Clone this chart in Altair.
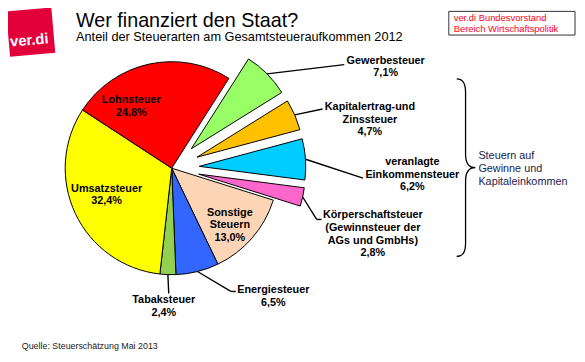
import math
import altair as alt
import pandas as pd

# ---------------- data ----------------
categories = [
    "Gewerbesteuer",
    "Kapitalertrag-und\nZinssteuer",
    "veranlagte\nEinkommensteuer",
    "Körperschaftsteuer\n(Gewinnsteuer der\nAGs und GmbHs)",
    "Sonstige\nSteuern",
    "Energiesteuer",
    "Tabaksteuer",
    "Umsatzsteuer",
    "Lohnsteuer",
]
shares = [7.1, 4.7, 6.2, 2.8, 13.0, 6.5, 2.4, 32.4, 24.8]
exploded = [1, 1, 1, 1, 0, 0, 0, 0, 0]
colors = ["#99FF66", "#FFC000", "#00CCFF", "#FF66CC", "#FBD5B5",
          "#3366FF", "#92D050", "#FFFF00", "#FF0000"]

# ---------------- layout (page pixel coordinates) ----------------
OFF = 8                      # page margin
W, H = 577, 346
CX, CY = 174 - OFF, 168 - OFF
R = 108
EXP = 28
START = math.radians(32.5)
FONT = "Liberation Sans"

label_x = [391, 375, 418, 378, 233, 277, 166, 108, 133]
label_y = [58, 105, 161, 215, 212, 291, 301, 188, 98]
has_lead = [1, 1, 1, 1, 0, 1, 1, 0, 0]
lead_x = [349, 327, 368, 321, None, 234, 171, None, None]
lead_y = [63, 108, 178, 220, None, 293, 295, None, None]
lead_end_x = [349, 327, 368, 326, None, 239, 171, None, None]

df = pd.DataFrame({
    "name": categories,
    "share": shares,
    "explode": exploded,
    "color": colors,
    "order": list(range(len(categories))),
    "tx": [x - OFF for x in label_x],
    "ty": [y - OFF + 4 for y in label_y],
    "lead": has_lead,
    "lx": [None if v is None else v - OFF for v in lead_x],
    "ly": [None if v is None else v - OFF for v in lead_y],
    "hx": [None if v is None else v - OFF for v in lead_end_x],
})

base = (
    alt.Chart(df)
    .transform_joinaggregate(total="sum(share)")
    .transform_window(cum="sum(share)", sort=[alt.SortField("order")], frame=[None, 0])
    .transform_calculate(t0=f"{START} + 2*PI*(datum.cum - datum.share)/datum.total")
    .transform_calculate(t1=f"{START} + 2*PI*datum.cum/datum.total")
    .transform_calculate(mid="(datum.t0 + datum.t1)/2")
    .transform_calculate(cx=f"{CX} + datum.explode*{EXP}*sin(datum.mid)")
    .transform_calculate(cy=f"{CY} - datum.explode*{EXP}*cos(datum.mid)")
    .transform_calculate(ex=f"datum.cx + {R}*sin(datum.mid)")
    .transform_calculate(ey=f"datum.cy - {R}*cos(datum.mid)")
    .transform_calculate(label="datum.name + '\\n' + replace(format(datum.share, '.1f'), '.', ',') + '%'")
)

pie = base.mark_arc(outerRadius=R, stroke="black", strokeWidth=1).encode(
    theta=alt.Theta("t0:Q", scale=None),
    theta2="t1:Q",
    x=alt.X("cx:Q", scale=None, axis=None),
    y=alt.Y("cy:Q", scale=None, axis=None),
    color=alt.Color("color:N", scale=None),
)

lead1 = base.transform_filter("datum.lead == 1").mark_rule(color="black", strokeWidth=1.4).encode(
    x=alt.X("ex:Q", scale=None, axis=None),
    y=alt.Y("ey:Q", scale=None, axis=None),
    x2="lx:Q",
    y2="ly:Q",
)
lead2 = base.transform_filter("datum.lead == 1").mark_rule(color="black", strokeWidth=1.4).encode(
    x=alt.X("lx:Q", scale=None, axis=None),
    y=alt.Y("ly:Q", scale=None, axis=None),
    x2="hx:Q",
    y2="ly:Q",
)

labels = base.mark_text(
    font=FONT, fontSize=11, fontWeight="bold", lineBreak="\n", lineHeight=12.7,
    align="center", baseline="alphabetic", color="black",
).encode(
    x=alt.X("tx:Q", scale=None, axis=None),
    y=alt.Y("ty:Q", scale=None, axis=None),
    text="label:N",
)

one = pd.DataFrame({"k": [0]})


def txt(s, x, y, size, color="black", weight="normal", align="left", angle=0, baseline="alphabetic"):
    kw = dict(font=FONT, fontSize=size, fontWeight=weight, align=align, color=color,
              baseline=baseline, lineBreak="\n")
    if angle:
        kw["angle"] = angle
    return alt.Chart(one).mark_text(**kw).encode(
        x=alt.value(x - OFF), y=alt.value(y - OFF), text=alt.value(s)
    )


title = txt("Wer finanziert den Staat?", 77, 25, 20)
subtitle = txt("Anteil der Steuerarten am Gesamtsteueraufkommen 2012", 77, 39, 12.9)
source = txt("Quelle: Steuerschätzung Mai 2013", 22, 351, 9, color="#222222")

logo_box = alt.Chart(one).mark_point(
    shape="square", size=46 * 46, filled=True, color="#E2003A", opacity=1, angle=355
).encode(x=alt.value(31 - OFF), y=alt.value(30 - OFF))
logo_txt = txt("ver.di", 30, 43, 15, color="white", weight="bold", align="center", angle=355)

box = alt.Chart(one).mark_rect(fill="white", stroke="#333333", strokeWidth=1).encode(
    x=alt.value(455 - OFF), x2=alt.value(583 - OFF), y=alt.value(9 - OFF), y2=alt.value(33 - OFF)
)
box_t1 = txt("ver.di Bundesvorstand", 460, 19, 9.5, color="#FF0022")
box_t2 = txt("Bereich Wirtschaftspolitik", 460, 30, 9.5, color="#FF0022")

brace_path = ("M -0.1 -1 Q 0 -1 0 -0.85 L 0 -0.15 Q 0 0 0.11 0 "
              "Q 0 0 0 0.15 L 0 0.85 Q 0 1 -0.1 1")
brace = alt.Chart(one).mark_point(
    shape=brace_path, size=180 * 180, filled=False, stroke="black", strokeWidth=1.3, opacity=1
).encode(x=alt.value(472 - OFF), y=alt.value(167.5 - OFF))
brace_txt = txt("Steuern auf\nGewinne und\nKapitaleinkommen", 485, 159, 11, color="#1a1a4e")

chart = alt.layer(
    pie, lead1, lead2, labels,
    title, subtitle, source, logo_box, logo_txt, box, box_t1, box_t2, brace, brace_txt,
).properties(
    width=W, height=H, padding=0, autosize="none", background="white"
).configure_view(stroke=None)

chart.save("out.html", embed_options={"renderer": "svg", "actions": False})
